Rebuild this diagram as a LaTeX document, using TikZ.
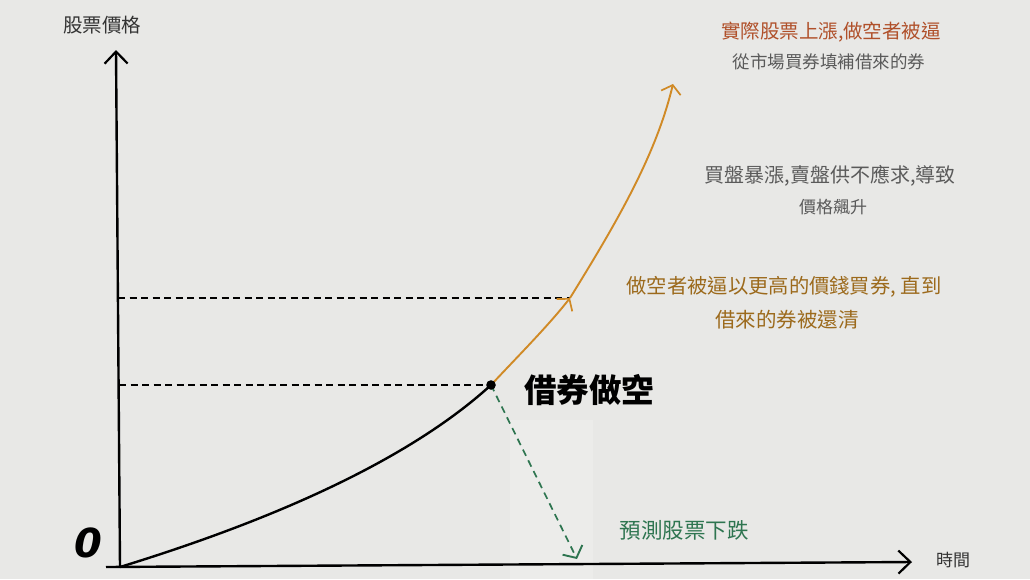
\documentclass[tikz,border=0pt]{standalone}
\usepackage{fontspec}
\newfontfamily\cjk{Noto Sans CJK TC}
\newfontfamily\zerofont{DejaVu Sans}
\usetikzlibrary{arrows.meta}
\definecolor{bg}{HTML}{E8E8E6}
\definecolor{paper}{HTML}{ECECEA}
\definecolor{redbrown}{HTML}{B0502A}
\definecolor{txtgray}{HTML}{5A5A5A}
\definecolor{gold}{HTML}{9C6A1C}
\definecolor{curveor}{HTML}{D08A26}
\definecolor{dgreen}{HTML}{2E7550}
\tikzset{
  lbl/.style={inner sep=0pt, anchor=center},
  axisline/.style={line width=2.4pt, black, -{Straight Barb[length=12pt,width=23pt,line width=2.2pt]}},
  orarrow/.style={line width=1.9pt, curveor, -{Straight Barb[length=8pt,width=20pt,line width=1.7pt]}},
  guide/.style={line width=1.5pt, black, dash pattern=on 7pt off 4.5pt},
}
\begin{document}
\begin{tikzpicture}[x=1pt,y=-1pt]
\useasboundingbox (0,0) rectangle (1030,579);
\fill[bg] (0,0) rectangle (1030,579);
\fill[paper] (510,420) rectangle (593,579);

% coordinates
\coordinate (O) at (120,567);
\coordinate (ytop) at (116,50);
\coordinate (xstart) at (106,567);
\coordinate (xend) at (912,562);
\coordinate (P) at (491,385);
\coordinate (Q) at (570,298);
\coordinate (T) at (673,84);
\coordinate (G) at (577,559);
\coordinate (yP) at (119,385);
\coordinate (yQ) at (118,298);

% axes
\draw[axisline] (O) -- (ytop);
\draw[axisline] (xstart) -- (xend);

% dashed guides
\draw[guide] (yQ) -- (Q);
\draw[guide] (yP) -- (P);

% curves
\draw[line width=2.4pt, black] (O) .. controls (250,527) and (400,468) .. (P);
\draw[orarrow] (P) .. controls (520,354) and (548,326) .. (Q);
\draw[orarrow] (Q) .. controls (617,222) and (656,155) .. (T);

% prediction arrow
\draw[line width=1.7pt, dgreen, dash pattern=on 7pt off 5pt,
  -{Straight Barb[length=9pt,width=22pt,line width=1.9pt]}] (P) -- (G);

\fill[black] (P) circle (4.8pt);

% labels
\node[lbl, font=\cjk\fontsize{19.5}{22}\selectfont, text=black!80] (ylab) at (102,25) {股票價格};
\node[lbl, font=\cjk\fontsize{17}{20}\selectfont, text=black!80] (xlab) at (953,560) {時間};
\node[lbl, font=\zerofont\fontsize{40}{44}\selectfont\bfseries\itshape] (zero) at (88,543) {0};
\node[lbl, font=\cjk\fontsize{32.5}{36}\selectfont\bfseries] (short) at (589,390) {借券做空};
\node[lbl, font=\cjk\fontsize{21.5}{24}\selectfont, text=dgreen] (pred) at (684,530) {預測股票下跌};
\node[lbl, font=\cjk\fontsize{19.5}{22}\selectfont, text=redbrown] (t1) at (831,32) {實際股票上漲,做空者被逼};
\node[lbl, font=\cjk\fontsize{17.5}{20}\selectfont, text=txtgray] (t2) at (829,62) {從市場買券填補借來的券};
\node[lbl, font=\cjk\fontsize{20}{23}\selectfont, text=txtgray] (t3) at (830,176) {買盤暴漲,賣盤供不應求,導致};
\node[lbl, font=\cjk\fontsize{17}{20}\selectfont, text=txtgray] (t4) at (833,207) {價格飆升};
\node[lbl, font=\cjk\fontsize{20.3}{23}\selectfont, text=gold] (t5) at (784,287) {做空者被逼以更高的價錢買券, 直到};
\node[lbl, font=\cjk\fontsize{20.5}{23}\selectfont, text=gold] (t6) at (787,320) {借來的券被還清};
\end{tikzpicture}
\end{document}
